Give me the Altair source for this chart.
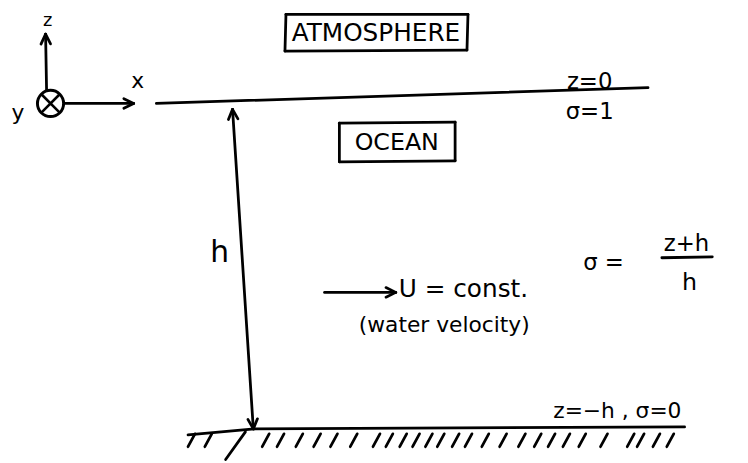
import altair as alt
import pandas as pd
import numpy as np

FONT = "DejaVu Sans"

# ---- plain strokes (x1, y1, x2, y2) in reference pixel space ----
seg_x1 = [158, 190, 257, 669, 289, 473, 472, 288, 343, 460, 460, 343, 248]
seg_y1 = [102, 437, 431, 258, 12, 12, 48, 49, 122, 121, 160, 161, 434]
seg_x2 = [655, 257, 692, 720, 473, 472, 288, 289, 460, 460, 343, 343, 228]
seg_y2 = [86, 431, 429, 257, 12, 48, 49, 12, 121, 160, 161, 122, 462]

# ---- arrows: start, end, head at start, head at end ----
arr_x1 = [47, 66, 235, 328]
arr_y1 = [89, 102, 108, 293]
arr_x2 = [46, 135, 256, 400]
arr_y2 = [32, 102, 431, 293]
arr_head_start = [False, False, True, False]
arr_head_end = [True, True, True, True]

# ---- hatch marks under the sea floor ----
hatch_x = [193, 210, 268, 283, 302, 320, 337, 357, 380, 393, 407, 420, 433, 445,
           460, 473, 490, 508, 527, 543, 557, 572, 588, 610, 637, 647, 663, 677]

# ---- text labels ----
lab_text = ["z", "x", "y", "ATMOSPHERE", "OCEAN", "z=0", "σ=1", "h",
            "(water velocity)", "σ =", "z+h", "h", "z=−h , σ=0"]
lab_x = [48, 139, 18, 380, 401, 596, 596, 222, 449, 610, 694, 697, 624]
lab_y = [19, 79, 112, 31, 142, 80, 111, 253, 326, 263, 244, 284, 413]
lab_fs = [18, 22, 22, 25, 24, 23, 23, 30, 22, 23, 23, 24, 22]

left_text = ["U = const."]
left_x = [403]
left_y = [290]
left_fs = [25]

# ---- coordinate symbol (y into page) ----
sym_x = [51]
sym_y = [102]

# build stroke table
rows = []
for a, b, c, d in zip(seg_x1, seg_y1, seg_x2, seg_y2):
    rows.append((a, b, c, d))
HL, ANG = 11.0, np.deg2rad(26)
def head(tx, ty, fx, fy):
    v = np.array([fx - tx, fy - ty], float)
    v /= np.linalg.norm(v)
    out = []
    for s in (ANG, -ANG):
        r = np.array([[np.cos(s), -np.sin(s)], [np.sin(s), np.cos(s)]]) @ v
        out.append((tx, ty, tx + HL * r[0], ty + HL * r[1]))
    return out
for a, b, c, d, hs, he in zip(arr_x1, arr_y1, arr_x2, arr_y2, arr_head_start, arr_head_end):
    rows.append((a, b, c, d))
    if he:
        rows += head(c, d, a, b)
    if hs:
        rows += head(a, b, c, d)
for hx in hatch_x:
    rows.append((hx + 4, 436, hx - 3, 449))
segs = pd.DataFrame(rows, columns=["x", "y", "x2", "y2"])

xs = alt.Scale(domain=[8, 748], nice=False, zero=False)
ys = alt.Scale(domain=[463, 8], nice=False, zero=False)

strokes = alt.Chart(segs).mark_rule(color="black", strokeWidth=2.8, strokeCap="round").encode(
    x=alt.X("x:Q", scale=xs, axis=None),
    y=alt.Y("y:Q", scale=ys, axis=None),
    x2="x2:Q", y2="y2:Q",
)

sym = pd.DataFrame({"x": sym_x, "y": sym_y})
circle = alt.Chart(sym).mark_point(shape="circle", filled=False, color="black",
                                   strokeWidth=3, size=700, opacity=1).encode(
    x=alt.X("x:Q", scale=xs, axis=None), y=alt.Y("y:Q", scale=ys, axis=None))
cross = alt.Chart(sym).mark_point(shape="M-0.7,-0.7L0.7,0.7M-0.7,0.7L0.7,-0.7", filled=False,
                                  color="black", strokeWidth=2.6, size=700, opacity=1).encode(
    x=alt.X("x:Q", scale=xs, axis=None), y=alt.Y("y:Q", scale=ys, axis=None))

labs = pd.DataFrame({"t": lab_text, "x": lab_x, "y": lab_y, "fs": lab_fs})
texts = alt.Chart(labs).mark_text(font=FONT, color="black", align="center", baseline="middle").encode(
    x=alt.X("x:Q", scale=xs, axis=None), y=alt.Y("y:Q", scale=ys, axis=None),
    text="t:N", size=alt.Size("fs:Q", scale=None))

labs2 = pd.DataFrame({"t": left_text, "x": left_x, "y": left_y, "fs": left_fs})
texts2 = alt.Chart(labs2).mark_text(font=FONT, color="black", align="left", baseline="middle").encode(
    x=alt.X("x:Q", scale=xs, axis=None), y=alt.Y("y:Q", scale=ys, axis=None),
    text="t:N", size=alt.Size("fs:Q", scale=None))

chart = alt.layer(strokes, circle, cross, texts, texts2).properties(
    width=740, height=455, autosize=alt.AutoSizeParams(type="none"), padding=0,
    background="white",
).configure_view(stroke=None)

chart.save("out.html", embed_options={"renderer": "svg", "actions": False})
